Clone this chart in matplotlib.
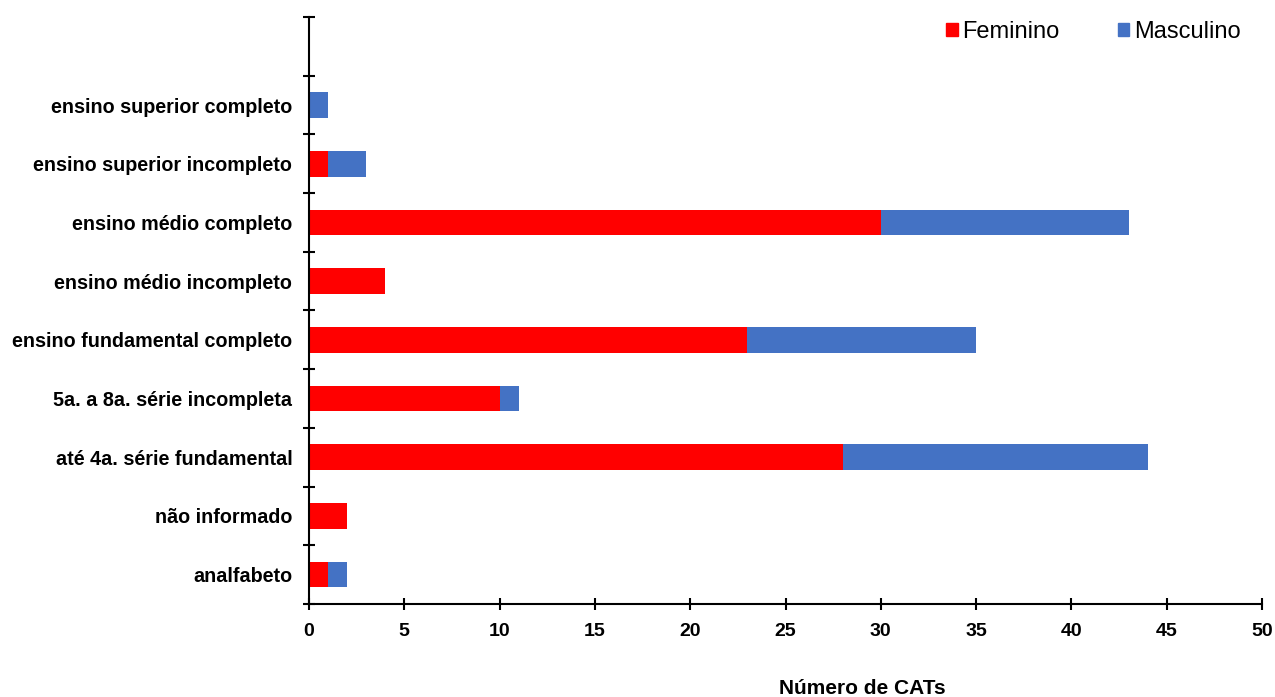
import matplotlib.pyplot as plt
from matplotlib.patches import Rectangle
import numpy as np

plt.rcParams["font.family"] = ["Liberation Sans", "DejaVu Sans"]

# escolaridade, de baixo para cima
categorias = ["analfabeto", "não informado", "até 4a. série fundamental",
              "5a. a 8a. série incompleta", "ensino fundamental completo",
              "ensino médio incompleto", "ensino médio completo",
              "ensino superior incompleto", "ensino superior completo"]
feminino = [1, 2, 28, 10, 23, 4, 30, 1, 0]
masculino = [1, 0, 16, 1, 12, 0, 13, 2, 1]
x_ticks = [0, 5, 10, 15, 20, 25, 30, 35, 40, 45, 50]

cor_fem = "#FF0000"
cor_masc = "#4472C4"

fig = plt.figure(figsize=(12.75, 6.97), dpi=100)
ax = fig.add_axes([309 / 1275, 1 - 604 / 697, (1262 - 309) / 1275, (604 - 17) / 697])

y = np.arange(len(categorias))
h = 0.435
ax.barh(y, feminino, height=h, color=cor_fem, edgecolor="none")
ax.barh(y, masculino, left=feminino, height=h, color=cor_masc, edgecolor="none")

ax.set_xlim(0, 50)
ax.set_ylim(-0.5, len(categorias) + 0.5)
ax.set_xticks(x_ticks)
ax.set_xticklabels([str(v) for v in x_ticks], fontsize=14, fontweight="bold")

# marcas nas divisas das faixas, rotulos no centro
ax.set_yticks(np.arange(-0.5, len(categorias) + 1, 1.0))
ax.set_yticklabels([])
ax.set_yticks(y, minor=True)
ax.set_yticklabels(categorias, minor=True, fontsize=14.2, fontweight="bold")
ax.tick_params(axis="y", which="minor", length=0, pad=12)
ax.tick_params(axis="both", which="major", direction="inout", length=8, width=1.5)
ax.tick_params(axis="x", pad=10)

for s in ["top", "right"]:
    ax.spines[s].set_visible(False)
for s in ["left", "bottom"]:
    ax.spines[s].set_linewidth(1.5)

fig.text(862 / 1275, 1 - 688 / 697, "Número de CATs", ha="center", va="center",
         fontsize=15, fontweight="bold")

handles = [Rectangle((0, 0), 1, 1, color=cor_fem), Rectangle((0, 0), 1, 1, color=cor_masc)]
ax.legend(handles, ["Feminino", "Masculino"], ncol=2, frameon=False, fontsize=17,
          loc="upper right", bbox_to_anchor=(1.0, 1.03), handlelength=0.5, handleheight=0.5,
          handletextpad=0.2, columnspacing=2.45)

fig.savefig("out.png", dpi=100)
